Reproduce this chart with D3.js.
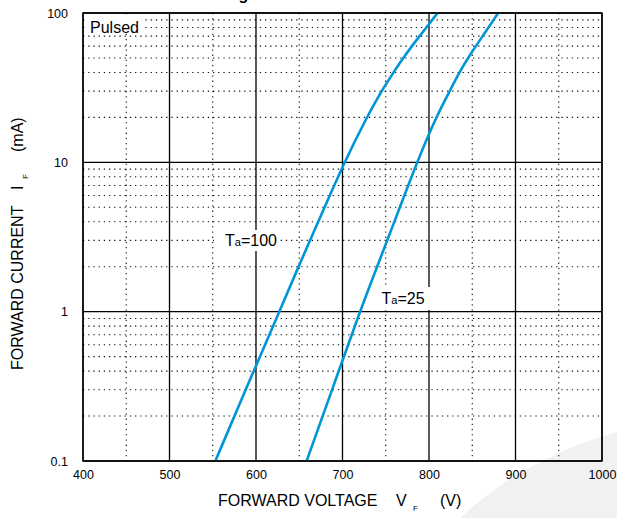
<!DOCTYPE html>
<html>
<head>
<meta charset="utf-8">
<script src="https://cdn.jsdelivr.net/npm/d3@7"></script>
<style>
  html, body { margin: 0; padding: 0; background: #fff; }
  svg { display: block; font-family: "Liberation Sans", Arial, sans-serif; }
</style>
</head>
<body>
<svg id="chart" width="617" height="518"></svg>
<script>
// ---- data ----
const xTicks = [400, 500, 600, 700, 800, 900, 1000];
const yTicks = [0.1, 1, 10, 100];
const yTickLabels = ["0.1", "1", "10", "100"];

// Ta = 100 curve: forward voltage (V axis units) and current (mA)
const ta100V = [553, 588, 627, 649, 672, 702, 728, 745, 759, 770, 789, 810];
const ta100I = [0.1, 0.3, 1, 2, 4, 10, 20, 30, 40, 50, 70, 100];
// Ta = 25 curve
const ta25V = [658.5, 688, 720, 740, 760, 786, 808, 824, 835, 845, 862, 880];
const ta25I = [0.1, 0.3, 1, 2, 4, 10, 20, 30, 40, 50, 70, 100];

const titleText = "Forward Voltage vs. Forward Current";

// ---- layout ----
const svg = d3.select("#chart");
const L = 83, R = 602, T = 13, B = 461;
const x = d3.scaleLinear().domain([400, 1000]).range([L, R]);
const y = d3.scaleLog().domain([0.1, 100]).range([B, T]);

// background watermark swoosh
svg.append("path")
  .attr("d", "M460,518 C505,476 560,448 617,432 L617,518 Z")
  .attr("fill", "#f1f1f1");

// title (mostly above the top edge, as in the reference)
svg.append("text")
  .attr("x", 133).attr("y", 0)
  .attr("font-size", 16).attr("font-weight", "bold")
  .attr("fill", "#000")
  .text(titleText);

const grid = svg.append("g");

// minor vertical (dotted) at 50s
const xMinor = d3.range(450, 1000, 100);
grid.selectAll(".vmin").data(xMinor).enter().append("line")
  .attr("x1", d => x(d)).attr("x2", d => x(d))
  .attr("y1", T).attr("y2", B)
  .attr("stroke", "#111").attr("stroke-width", 1.1)
  .attr("stroke-dasharray", "1.3,3.9");

// minor horizontal (dotted) 2..9 per decade
const yMinor = [];
[0.1, 1, 10].forEach(dec => { for (let k = 2; k <= 9; k++) yMinor.push(dec * k); });
grid.selectAll(".hmin").data(yMinor).enter().append("line")
  .attr("x1", L).attr("x2", R)
  .attr("y1", d => y(d)).attr("y2", d => y(d))
  .attr("stroke", "#111").attr("stroke-width", 1.1)
  .attr("stroke-dasharray", "1.3,3.9");

// major grid
grid.selectAll(".vmaj").data(xTicks).enter().append("line")
  .attr("x1", d => x(d)).attr("x2", d => x(d))
  .attr("y1", T).attr("y2", B)
  .attr("stroke", "#000").attr("stroke-width", 1.3);
grid.selectAll(".hmaj").data(yTicks).enter().append("line")
  .attr("x1", L).attr("x2", R)
  .attr("y1", d => y(d)).attr("y2", d => y(d))
  .attr("stroke", "#000").attr("stroke-width", 1.3);

// label boxes (white) covering grid
const boxes = [
  {x0: 86, y0: 15, x1: 142, y1: 32},
  {x0: 214, y0: 230, x1: 279, y1: 251},
  {x0: 379, y0: 287, x1: 430, y1: 310}
];
svg.selectAll(".box").data(boxes).enter().append("rect")
  .attr("x", d => d.x0).attr("y", d => d.y0)
  .attr("width", d => d.x1 - d.x0).attr("height", d => d.y1 - d.y0)
  .attr("fill", "#fff");

// curves
svg.append("clipPath").attr("id", "plotclip").append("rect")
  .attr("x", L).attr("y", T).attr("width", R - L).attr("height", B - T);
const line = d3.line().x(d => x(d[0])).y(d => y(d[1])).curve(d3.curveBasis);
const series = [d3.zip(ta100V, ta100I), d3.zip(ta25V, ta25I)];
svg.append("g").attr("clip-path", "url(#plotclip)")
  .selectAll("path").data(series).enter().append("path")
  .attr("d", line)
  .attr("fill", "none")
  .attr("stroke", "#0096d6")
  .attr("stroke-width", 2.6);

// axes labels via d3 axes
const xAxis = svg.append("g").attr("transform", `translate(0,${B})`)
  .call(d3.axisBottom(x).tickValues(xTicks).tickSize(0).tickPadding(9).tickFormat(d3.format("d")));
const yAxis = svg.append("g").attr("transform", `translate(${L},0)`)
  .call(d3.axisLeft(y).tickValues(yTicks).tickSize(0).tickPadding(15)
        .tickFormat((d, i) => yTickLabels[i]));
[xAxis, yAxis].forEach(a => {
  a.select(".domain").remove();
  a.selectAll("text").attr("font-size", 12.5).attr("fill", "#000")
    .attr("font-family", "'Liberation Sans', Arial, sans-serif");
});

// frame
svg.append("rect").attr("x", L).attr("y", T).attr("width", R - L).attr("height", B - T)
  .attr("fill", "none").attr("stroke", "#000").attr("stroke-width", 1.4);

// in-plot labels
svg.append("text").attr("x", 90).attr("y", 32.5).attr("font-size", 16).text("Pulsed");

function taLabel(xp, yp, val) {
  const t = svg.append("text").attr("x", xp).attr("y", yp).attr("font-size", 16);
  t.append("tspan").text("T");
  t.append("tspan").attr("font-size", 11).text("a");
  t.append("tspan").text("=" + val);
}
taLabel(225, 246, "100");
taLabel(381.5, 303.5, "25");

// x title
const xt = svg.append("text").attr("y", 506).attr("font-size", 16);
xt.append("tspan").attr("x", 218).text("FORWARD VOLTAGE");
xt.append("tspan").attr("x", 396).text("V");
xt.append("tspan").attr("x", 413).attr("dy", 5).attr("font-size", 8).text("F");
xt.append("tspan").attr("x", 440).attr("dy", -5).text("(V)");

// y title
const yt = svg.append("g").attr("transform", "translate(23,0) rotate(-90)")
  .append("text").attr("y", 0).attr("font-size", 16);
yt.append("tspan").attr("x", -370).text("FORWARD CURRENT");
yt.append("tspan").attr("x", -190).text("I");
yt.append("tspan").attr("x", -179).attr("dy", 5).attr("font-size", 8).text("F");
yt.append("tspan").attr("x", -152).attr("dy", -5).text("(mA)");
</script>
</body>
</html>
